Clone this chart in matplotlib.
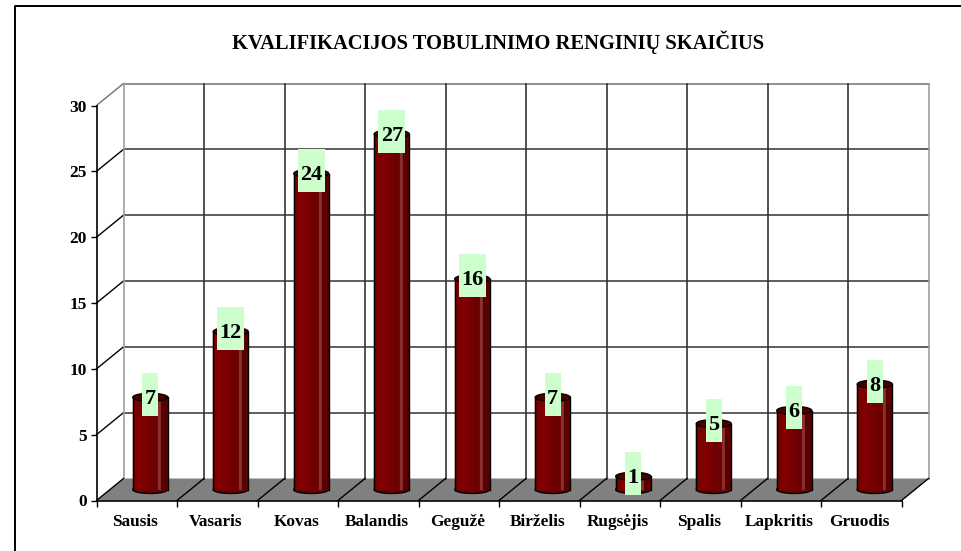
import matplotlib
matplotlib.use("Agg")
import matplotlib.pyplot as plt
from matplotlib.patches import Rectangle, Ellipse, Polygon

menesiai = ["Sausis", "Vasaris", "Kovas", "Balandis", "Gegužė", "Birželis", "Rugsėjis", "Spalis", "Lapkritis", "Gruodis"]
renginiai = [7, 12, 24, 27, 16, 7, 1, 5, 6, 8]
y_ticks = [0, 5, 10, 15, 20, 25, 30]
pavadinimas = "KVALIFIKACIJOS TOBULINIMO RENGINIŲ SKAIČIUS"

W, H = 961, 551
plt.rcParams["font.family"] = ["Liberation Serif", "DejaVu Serif"]
plt.rcParams["font.weight"] = "bold"

fig = plt.figure(figsize=(W / 100, H / 100), dpi=100)
ax = fig.add_axes([96.5 / W, (H - 500.5) / H, 805 / W, 395 / H])
ax.set_xlim(0, len(menesiai))
ax.set_ylim(0, 30)

# vieno vieneto dydis pikseliais
px_x = 805 / len(menesiai)
px_y = 395 / 30
dx = 27 / px_x
dy = 22 / px_y

# grindys
ax.add_patch(Polygon([(0, 0), (10, 0), (10 + dx, dy), (dx, dy)], closed=True,
                     fc="#808080", ec="none", clip_on=False, zorder=1))

# galine siena
for t in y_ticks:
    if t == 0:
        continue
    ax.plot([dx, 10 + dx], [t + dy, t + dy], color="#333333" if t < 30 else "#707070", lw=1.1, clip_on=False, zorder=1)
    ax.plot([0, dx], [t, t + dy], color="black" if t < 30 else "#707070", lw=1, clip_on=False, zorder=1)
for i in range(11):
    c = "#a0a0a0" if i in (0, 10) else "#333333"
    ax.plot([i + dx, i + dx], [dy, 30 + dy], color=c, lw=1.2, clip_on=False, zorder=1)
    ax.plot([i, i + dx], [0, dy], color="black", lw=1, clip_on=False, zorder=2)

# stulpeliai
plotis = 35 / px_x
storis = 8 / px_y
juostos = ["#740000", "#7c0000", "#800000", "#7e0000", "#780000", "#720000", "#6e0000", "#6a0000", "#8a3030", "#5a0000", "#580000"]
for i, v in enumerate(renginiai):
    cx = i + 0.5 + 13.5 / px_x
    base = 11 / px_y
    top = v + base
    kaire = cx - plotis / 2
    for j, c in enumerate(juostos):
        x0 = kaire + j * plotis / len(juostos)
        ax.add_patch(Rectangle((x0, base), plotis / len(juostos), v, fc=c, ec=c, lw=0.2, clip_on=False, zorder=3))
    ax.add_patch(Ellipse((cx, base), plotis, storis, fc="#6a0000", ec="black", lw=1, clip_on=False, zorder=2.9))
    ax.plot([kaire, kaire], [base, top], color="black", lw=1, clip_on=False, zorder=4)
    ax.plot([kaire + plotis, kaire + plotis], [base, top], color="black", lw=1, clip_on=False, zorder=4)
    ax.add_patch(Ellipse((cx, top), plotis, storis, fc="#4a0000", ec="black", lw=1, clip_on=False, zorder=4))
    # reiksme su zalsvu fonu
    bw = (16 if v < 10 else 27) / px_x
    bh = 43 / px_y
    ly = top + 3 / px_y
    ax.add_patch(Rectangle((cx - bw / 2, ly - bh / 2), bw, bh, fc="#ccffcc", ec="none", clip_on=False, zorder=5))
    ax.text(cx, ly - 4.5 / px_y, str(v), ha="center", va="center", fontsize=16, color="black", zorder=6)

# asys
for s in ("top", "right"):
    ax.spines[s].set_visible(False)
for s in ("left", "bottom"):
    ax.spines[s].set_linewidth(1.2)
ax.patch.set_visible(False)
ax.set_xticks(range(11))
ax.set_xticklabels([])
ax.set_yticks(y_ticks)
ax.tick_params(axis="both", length=4, width=1, direction="out", labelsize=12.5)
ax.tick_params(axis="y", pad=3)
for i, m in enumerate(menesiai):
    ax.text(i + 0.5 - 1.5 / px_x, -1.63, m, ha="center", va="center", fontsize=12.4)

fig.text(498 / W, 1 - 42 / H, pavadinimas, ha="center", va="center", fontsize=14.8)

# remelis
fig.add_artist(plt.Line2D([15 / W, 15 / W, 1], [0, 1 - 6 / H, 1 - 6 / H], color="black", lw=1.4))

fig.savefig("out.png", dpi=100)
